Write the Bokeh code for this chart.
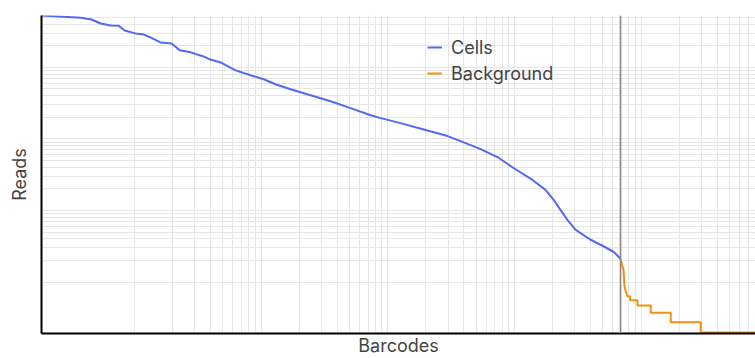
from bokeh.plotting import figure
from bokeh.models import Range1d, FixedTicker, Span, Legend, LegendItem
from bokeh.embed import file_html
from bokeh.resources import INLINE

# ---- data (barcode rank plot, log-log) ----
cells_rank = [1.85, 3.77, 4.60, 5.42, 6.50, 7.52, 8.38, 10.2, 11.6, 13.4, 16.1, 19.7,
              22.8, 27.8, 35.2, 38.6, 48.0, 63.0, 82.8, 105, 130, 171, 246, 354, 509,
              733, 879, 1263, 1990, 2970, 3760, 5410, 7360, 9840, 13900, 17600, 20400,
              23100, 26200, 30300, 39900, 47900, 60600, 68700]
cells_reads = [53000, 49200, 46600, 41000, 38500, 38100, 32700, 29800, 29100, 26200,
               22300, 21600, 17300, 16200, 14200, 13100, 11700, 9080, 7740, 6810, 5800,
               4940, 4080, 3360, 2690, 2140, 1950, 1660, 1330, 1095, 931, 721, 558, 392,
               267, 194, 141, 102, 74, 54, 39, 33.2, 26.5, 21.2]

bg_rank = [68700, 72600, 74000, 76300, 78100, 82000, 82000, 93600, 93600, 119200,
           119200, 171400, 171400, 295800, 295800, 800000]
bg_reads = [21.2, 14.9, 8.7, 7.05, 6.3, 6.3, 5.56, 5.56, 4.69, 4.69, 3.71, 3.71,
            2.75, 2.75, 1.97, 1.97]

cell_cutoff = 68700
series_names = ["Cells", "Background"]
series_colors = ["#5468F2", "#F2900F"]
x_title = "Barcodes"
y_title = "Reads"

x_decades = [1, 2, 3, 4, 5]
y_decades = [1, 2, 3, 4]
minor_mult = [1, 2, 3, 4, 5, 6, 7, 8, 9]

p = figure(width=755, height=358, x_axis_type="log", y_axis_type="log",
           x_range=Range1d(1.85, 800000), y_range=Range1d(1.91, 53000),
           output_backend="svg", toolbar_location=None,
           min_border_left=41, min_border_right=0, min_border_top=15,
           min_border_bottom=24)
p.outline_line_color = None
p.background_fill_color = "white"
p.border_fill_color = "white"

# grid
p.xgrid.ticker = FixedTicker(ticks=[m * 10 ** k for k in x_decades for m in minor_mult])
p.ygrid.ticker = FixedTicker(ticks=[m * 10 ** k for k in y_decades for m in minor_mult])
for g in (p.xgrid, p.ygrid):
    g.grid_line_color = "#e6e6e6"
    g.grid_line_width = 1

# axes: bare black lines with titles
for ax in (p.xaxis, p.yaxis):
    ax.ticker = FixedTicker(ticks=[])
    ax.axis_line_color = "black"
    ax.axis_line_width = 2
    ax.major_tick_line_color = None
    ax.minor_tick_line_color = None
    ax.major_tick_out = 0
    ax.major_tick_in = 0
    ax.minor_tick_out = 0
    ax.minor_tick_in = 0
    ax.major_label_standoff = 0
    ax.major_label_text_font_size = "0px"
    ax.axis_label_text_font = "Inter"
    ax.axis_label_text_font_size = "18px"
    ax.axis_label_text_font_style = "normal"
    ax.axis_label_text_color = "#444444"

p.xaxis.axis_label = x_title
p.xaxis.axis_label_standoff = 1
p.yaxis.axis_label = y_title
p.yaxis.axis_label_standoff = 12

# cutoff line
p.add_layout(Span(location=cell_cutoff, dimension="height", line_color="#8a8a8a",
                  line_width=1.5))

r_cells = p.line(cells_rank, cells_reads, line_color=series_colors[0], line_width=2)
r_bg = p.line(bg_rank, bg_reads, line_color=series_colors[1], line_width=2)

legend = Legend(items=[LegendItem(label=series_names[0], renderers=[r_cells]),
                       LegendItem(label=series_names[1], renderers=[r_bg])],
                location=(386, 249), orientation="vertical",
                background_fill_alpha=0, border_line_color=None,
                padding=0, margin=0, spacing=4,
                glyph_width=15, glyph_height=22, label_height=22, label_standoff=9,
                label_text_font="Inter", label_text_font_size="18px",
                label_text_color="#444444")
p.add_layout(legend)

open("out.html", "w").write(file_html(p, INLINE))
